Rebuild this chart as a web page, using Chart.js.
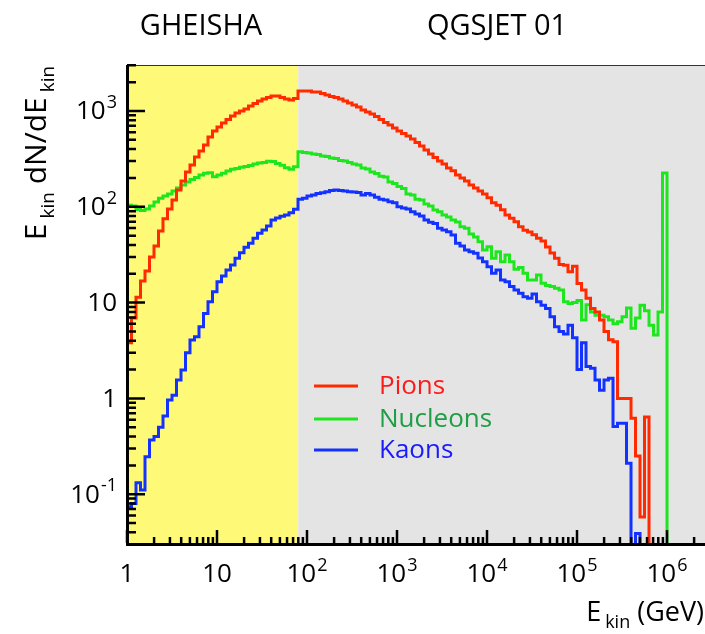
<!DOCTYPE html>
<html>
<head>
<meta charset="utf-8">
<script src="https://cdn.jsdelivr.net/npm/chart.js@4.4.1/dist/chart.umd.min.js"></script>
<style>
  html, body { margin: 0; padding: 0; background: #fff; }
  #wrap { position: relative; width: 705px; height: 634px; }
</style>
</head>
<body>
<div id="wrap"><canvas id="spectrum" width="705" height="634"></canvas></div>
<script>
// histogram binning: 20 log bins per decade starting at 1 GeV
const binsPerDecade = 20;

const pions = [
  3.8, 6.9, 11.4, 16.8, 21.4, 29.9, 39, 56, 75, 95,
  118, 150, 186, 231, 273, 331, 382, 441, 535, 619,
  681, 750, 815, 887, 953, 1000, 1050, 1128, 1197, 1271,
  1334, 1383, 1435, 1435, 1383, 1334, 1303, 1350,
  1618, 1618, 1618, 1578, 1578, 1524, 1469, 1416, 1383, 1334,
  1271, 1213, 1155, 1101, 1024, 977, 931, 877, 815, 759,
  714, 665, 618, 582, 548, 510, 469, 431, 392, 356,
  327, 301, 280, 254, 238, 215, 200, 186, 169, 157,
  146, 136, 124, 110, 104, 93, 82, 76, 70, 62,
  57, 54.5, 51, 47, 44, 38, 33, 29, 25, 24.5,
  21, 24, 15.8, 13.5, 11.1, 8.7, 8.0, 6.6, 5.0, 4.1,
  3.9, 1.0, 1.0, 1.0, 0.62, 0.25, 0.058, 0.64, 0, 0,
  0, 0, 0, 0, 0
];

const nucleons = [
  104, 102, 93.7, 91.5, 94.8, 102, 112, 123, 130, 136,
  146, 157, 169, 182, 193, 202, 215, 224, 227, 206,
  215, 224, 237, 246, 251, 258, 264, 270, 280, 287,
  290, 298, 297, 283, 271, 256, 246, 262,
  376, 369, 365, 356, 351, 339, 335, 323, 319, 304,
  301, 290, 280, 273, 254, 248, 231, 223, 209, 205,
  182, 175, 163, 155, 136, 133, 120, 118, 107, 102,
  92.7, 89, 82, 78.3, 72.8, 69.3, 62, 59.7, 52, 48.4,
  43.3, 35.4, 38.3, 29, 34, 26.7, 31.4, 26.7, 22.3, 23.3,
  20.2, 17.2, 17.2, 19.4, 15.9, 15.1, 14.7, 14.1, 13.5, 10.2,
  9.8, 10, 10.5, 6.6, 9.5, 8, 7.4, 7.4, 7.1, 6.6,
  6.0, 6.3, 7.1, 8.8, 5.4, 6.9, 9.4, 8.2, 5.8, 4.6,
  8.0, 225, 0, 0, 0
];

const kaons = [
  0.074, 0.080, 0.132, 0.111, 0.246, 0.368, 0.40, 0.50, 0.655, 0.96,
  1.08, 1.56, 1.98, 3.0, 4.07, 4.41, 5.6, 7.7, 10.2, 13,
  16.5, 19, 21.9, 24.7, 29, 33.2, 37.8, 41.6, 46.9, 52.9,
  57.3, 63, 72.8, 76.4, 79.5, 82, 86.7, 94,
  120, 123, 130, 133, 138, 140, 144, 148, 150, 148,
  146, 144, 143, 141, 133, 138, 133, 126, 120, 118,
  113, 110, 100, 97, 95, 89, 84, 80, 73, 69,
  67, 59.7, 57.3, 55, 50.8, 41.6, 39, 35.4, 34, 32.7,
  29.2, 26.7, 23.7, 20.2, 21.9, 17.2, 16.5, 14.7, 13.5, 12.5,
  11.5, 11.1, 12.3, 10.2, 9.4, 8.7, 7.1, 5.6, 5.0, 4.7,
  5.8, 4.3, 2.0, 3.8, 2.15, 2.06, 1.56, 1.22, 1.56, 1.62,
  0.51, 0.55, 0.55, 0.21, 0, 0.039, 0, 0, 0, 0,
  0, 0, 0, 0, 0
];

const modelSplit = 80; // GeV, GHEISHA below / QGSJET 01 above
const modelNames = ["GHEISHA", "QGSJET 01"];

const xTicks = [1, 10, 100, 1e3, 1e4, 1e5, 1e6];
const xTickLabels = [["1", ""], ["10", ""], ["10", "2"], ["10", "3"], ["10", "4"], ["10", "5"], ["10", "6"]];
const yTicks = [0.1, 1, 10, 100, 1000];
const yTickLabels = [["10", "-1"], ["1", ""], ["10", ""], ["10", "2"], ["10", "3"]];

const palette = {
  pions: "#ff2a00",
  nucleons: "#1ee61e",
  kaons: "#1432ff",
  pionsText: "#ff1a1a",
  nucleonsText: "#1f9e45",
  kaonsText: "#1a1aff",
  yellow: "#fff978",
  grey: "#e4e4e4",
};

const fontFamily = "'Open Sans', 'DejaVu Sans', sans-serif";

function toSteps(values) {
  const points = values.map((value, i) => ({
    x: Math.pow(10, i / binsPerDecade),
    y: value > 0 ? value : 1e-3,
  }));
  points.push({ x: Math.pow(10, values.length / binsPerDecade), y: points[points.length - 1].y });
  return points;
}

function histDataset(label, values, color) {
  return {
    label,
    data: toSteps(values),
    borderColor: color,
    backgroundColor: color,
    borderWidth: 3,
    stepped: "before",
    pointRadius: 0,
    fill: false,
    borderJoinStyle: "miter",
  };
}

function drawPower(ctx, base, exp, x, y, align, size) {
  ctx.font = `${size}px ${fontFamily}`;
  const baseWidth = ctx.measureText(base).width;
  ctx.font = `${Math.round(size * 0.68)}px ${fontFamily}`;
  const expWidth = exp ? ctx.measureText(exp).width + 1 : 0;
  const total = baseWidth + expWidth;
  let left = x;
  if (align === "center") left = x - total / 2;
  if (align === "right") left = x - total;
  ctx.textAlign = "left";
  ctx.textBaseline = "middle";
  ctx.font = `${size}px ${fontFamily}`;
  ctx.fillText(base, left, y);
  if (exp) {
    ctx.font = `${Math.round(size * 0.68)}px ${fontFamily}`;
    ctx.fillText(exp, left + baseWidth + 1, y - size * 0.36);
  }
}

const backgroundPlugin = {
  id: "modelBands",
  beforeDatasetsDraw(chart) {
    const { ctx, chartArea, scales } = chart;
    const split = scales.x.getPixelForValue(modelSplit);
    ctx.save();
    ctx.fillStyle = palette.yellow;
    ctx.fillRect(chartArea.left, chartArea.top, split - chartArea.left, chartArea.bottom - chartArea.top);
    ctx.fillStyle = palette.grey;
    ctx.fillRect(split, chartArea.top, chartArea.right - split, chartArea.bottom - chartArea.top);
    ctx.restore();
  },
};

const axesPlugin = {
  id: "rootAxes",
  afterDraw(chart) {
    const { ctx, chartArea, scales } = chart;
    const { left, right, top, bottom } = chartArea;
    ctx.save();

    // frame
    ctx.strokeStyle = "#333";
    ctx.lineWidth = 1;
    ctx.beginPath();
    ctx.moveTo(left, top + 0.5);
    ctx.lineTo(right, top + 0.5);
    ctx.stroke();

    ctx.strokeStyle = "#000";
    ctx.lineWidth = 3;
    ctx.beginPath();
    ctx.moveTo(left + 0.5, top);
    ctx.lineTo(left + 0.5, bottom + 2.5);
    ctx.moveTo(left - 1, bottom + 1.5);
    ctx.lineTo(right, bottom + 1.5);
    ctx.stroke();

    // ticks pointing inside
    ctx.lineWidth = 2.5;
    ctx.beginPath();
    for (let d = -2; d <= 6; d++) {
      for (let m = 1; m <= 9; m++) {
        const v = m * Math.pow(10, d);
        if (v >= scales.x.min && v <= scales.x.max) {
          const px = scales.x.getPixelForValue(v);
          ctx.moveTo(px, bottom);
          ctx.lineTo(px, bottom - (m === 1 ? 13 : 6));
        }
        if (v >= scales.y.min && v <= scales.y.max) {
          const py = scales.y.getPixelForValue(v);
          ctx.moveTo(left, py);
          ctx.lineTo(left + (m === 1 ? 18 : 9), py);
        }
      }
    }
    ctx.stroke();

    // tick labels
    ctx.fillStyle = "#000";
    xTicks.forEach((v, i) => {
      const [base, exp] = xTickLabels[i];
      drawPower(ctx, base, exp, scales.x.getPixelForValue(v), bottom + 32, "center", 26);
    });
    yTicks.forEach((v, i) => {
      const [base, exp] = yTickLabels[i];
      drawPower(ctx, base, exp, left - 10, scales.y.getPixelForValue(v) + 1, "right", 26);
    });

    // model titles
    ctx.font = `29px ${fontFamily}`;
    ctx.textAlign = "center";
    ctx.textBaseline = "middle";
    ctx.fillText(modelNames[0], 201, 27);
    ctx.fillText(modelNames[1], 497, 27);

    // x title
    ctx.textBaseline = "alphabetic";
    ctx.textAlign = "left";
    const xParts = [["E", 27, 0], ["kin", 18, 7], [" (GeV)", 27, 0]];
    let width = 0;
    xParts.forEach(([t, s]) => { ctx.font = `${s}px ${fontFamily}`; width += ctx.measureText(t).width + (t === "kin" ? 4 : 0); });
    let cx = 704 - width;
    xParts.forEach(([t, s, dy]) => {
      ctx.font = `${s}px ${fontFamily}`;
      if (t === "kin") cx += 4;
      ctx.fillText(t, cx, 621 + dy);
      cx += ctx.measureText(t).width;
    });

    // y title (rotated)
    ctx.save();
    ctx.translate(46, 153);
    ctx.rotate(-Math.PI / 2);
    const yParts = [["E", 30, 0], ["kin", 19, 8], [" dN/dE", 30, 0], ["kin", 19, 8]];
    width = 0;
    yParts.forEach(([t, s]) => { ctx.font = `${s}px ${fontFamily}`; width += ctx.measureText(t).width + (t === "kin" ? 5 : 0); });
    cx = -width / 2;
    yParts.forEach(([t, s, dy]) => {
      ctx.font = `${s}px ${fontFamily}`;
      if (t === "kin") cx += 5;
      ctx.fillText(t, cx, dy);
      cx += ctx.measureText(t).width;
    });
    ctx.restore();

    // legend
    const entries = [
      ["Pions", palette.pions, palette.pionsText, 386],
      ["Nucleons", palette.nucleons, palette.nucleonsText, 419],
      ["Kaons", palette.kaons, palette.kaonsText, 450],
    ];
    entries.forEach(([label, lineColor, textColor, y]) => {
      ctx.strokeStyle = lineColor;
      ctx.lineWidth = 3;
      ctx.beginPath();
      ctx.moveTo(314, y);
      ctx.lineTo(358, y);
      ctx.stroke();
      ctx.fillStyle = textColor;
      ctx.font = `26px ${fontFamily}`;
      ctx.textAlign = "left";
      ctx.textBaseline = "middle";
      ctx.fillText(label, 379, y + 1);
    });

    ctx.restore();
  },
};

const chart = new Chart(document.getElementById("spectrum"), {
  type: "line",
  data: {
    datasets: [
      histDataset("Pions", pions, palette.pions),
      histDataset("Nucleons", nucleons, palette.nucleons),
      histDataset("Kaons", kaons, palette.kaons),
    ],
  },
  options: {
    responsive: false,
    animation: false,
    layout: { padding: { left: 127, top: 65, right: 0, bottom: 91 } },
    plugins: { legend: { display: false }, tooltip: { enabled: false } },
    scales: {
      x: { type: "logarithmic", min: 1, max: Math.pow(10, 6.422), display: false },
      y: { type: "logarithmic", min: Math.pow(10, -1.509), max: Math.pow(10, 3.48), display: false },
    },
  },
  plugins: [backgroundPlugin, axesPlugin],
});
</script>
</body>
</html>
